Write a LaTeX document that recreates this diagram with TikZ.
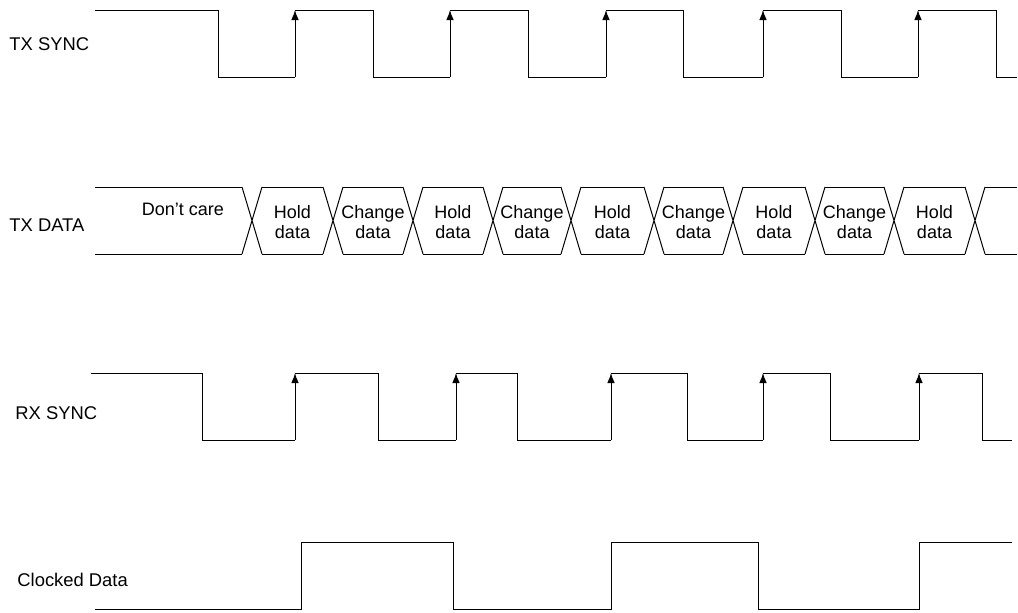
\documentclass[tikz,border=0pt]{standalone}
\usepackage{fontspec}
\setmainfont{Liberation Sans}
\usetikzlibrary{arrows.meta,positioning}
\tikzset{
  wave/.style={line width=0.5pt},
  clkedge/.style={wave, -{Latex[length=5pt,width=3.8pt]}},
  siglabel/.style={anchor=west, inner sep=0pt, font=\fontsize{9.2}{10}\selectfont},
  cell/.style={align=center, inner sep=0pt, font=\fontsize{9}{10}\selectfont}
}

\begin{document}
\begin{tikzpicture}[x=0.5pt, y=-0.5pt]
\useasboundingbox (0,0) rectangle (1018,612);

% signal names
\node (txsync) [siglabel] at (9,44) {TX SYNC};
\node (txdata) [siglabel] at (9,225) {TX DATA};
\node (rxsync) [siglabel] at (15,413) {RX SYNC};
\node (clkdata) [siglabel] at (17,580) {Clocked Data};

% TX SYNC
\draw[wave] (95,10) -- (218,10);
\foreach \fall/\rise/\next in {218/295/373, 373/450/528, 528/606/683, 683/763/841, 841/918/996}{
  \draw[wave] (\fall,10) -- (\fall,77) -- (\rise,77);
  \draw[clkedge] (\rise,77) -- (\rise,10);
  \draw[wave] (\rise,10) -- (\next,10);
}
\draw[wave] (996,10) -- (996,77) -- (1017,77);

% TX DATA
\draw[wave] (95,187) -- (242,187) (95,254) -- (242,254);
\node (dontcare) [cell] at (183,209) {Don't care};
\foreach \c in {252,333,413,493,571,654,733,815,894,975}{
  \draw[wave] (\c-10,187) -- (\c+10,254) (\c-10,254) -- (\c+10,187);
}
\foreach \a/\b/\txt [count=\i] in {252/333/Hold, 333/413/Change, 413/493/Hold, 493/571/Change,
    571/654/Hold, 654/733/Change, 733/815/Hold, 815/894/Change, 894/975/Hold}{
  \draw[wave] (\a+10,187) -- (\b-10,187) (\a+10,254) -- (\b-10,254);
  \node (cell\i) [cell] at ({(\a+\b)/2},222) {\txt\\data};
}
\draw[wave] (985,187) -- (1017,187) (985,254) -- (1017,254);

% RX SYNC
\draw[wave] (91,373) -- (202,373);
\foreach \fall/\rise/\next in {202/295/378, 378/456/517, 517/611/687, 687/763/830, 830/919/982}{
  \draw[wave] (\fall,373) -- (\fall,440) -- (\rise,440);
  \draw[clkedge] (\rise,440) -- (\rise,373);
  \draw[wave] (\rise,373) -- (\next,373);
}
\draw[wave] (982,373) -- (982,440) -- (1012,440);

% Clocked Data
\draw[wave] (95,609) -- (301,609) -- (301,542) -- (453,542) -- (453,609) -- (611,609)
  -- (611,542) -- (758,542) -- (758,609) -- (919,609) -- (919,542) -- (1012,542);

\end{tikzpicture}
\end{document}
